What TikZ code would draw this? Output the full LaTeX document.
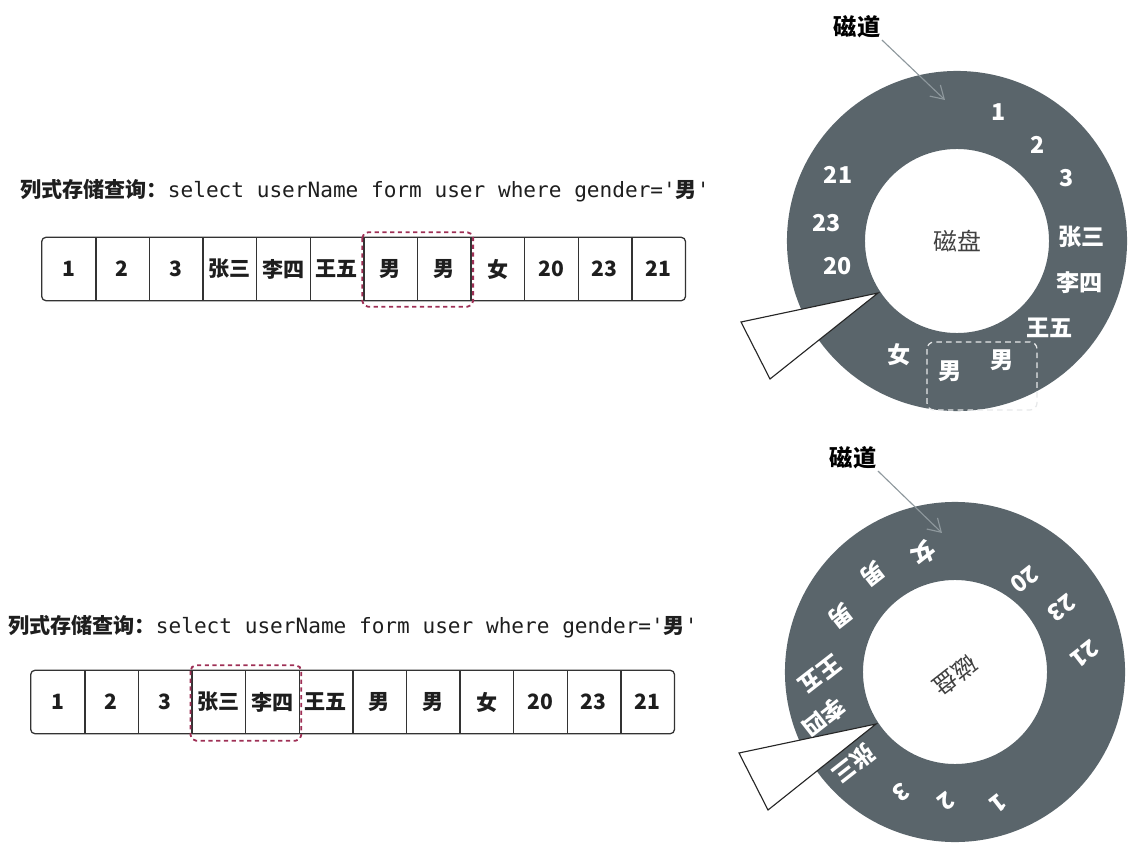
\documentclass[tikz,border=0pt]{standalone}
\usepackage{fontspec}
\setmainfont{Noto Sans CJK SC}
\setmonofont{DejaVu Sans Mono}
\usetikzlibrary{arrows.meta}
\definecolor{platter}{HTML}{5A656B}
\definecolor{pick}{HTML}{9E2F55}
\definecolor{pointer}{HTML}{8E989D}
\definecolor{ink}{HTML}{1E1E1E}
\def\ringpath{(0,0) circle (4.25cm) (0,0) circle (2.3cm)}
\def\headpath{(-79,-52) -- (-216,-81) -- (-187,-138) -- cycle}
\tikzset{
  cell/.style={minimum width=1.34cm, minimum height=1.57cm, inner sep=0pt, text=ink, font=\fontsize{15}{15}\selectfont\bfseries},
  rowline/.style={draw=black!80, line width=0.9pt},
  pickbox/.style={draw=pick, line width=1.3pt, dash pattern=on 3pt off 2.5pt, rounded corners=4pt},
  ringbox/.style={draw=white!85!platter, line width=0.9pt, dash pattern=on 4pt off 3pt, rounded corners=5pt},
  sector/.style={text=white, inner sep=0pt, text height=12pt, text depth=0pt, font=\fontsize{16.5}{16.5}\selectfont\bfseries},
  query/.style={anchor=base west, inner sep=0pt, text=ink, font=\fontsize{15}{18}\selectfont\bfseries},
  track/.style={inner sep=1pt, font=\fontsize{16.5}{16.5}\selectfont\bfseries},
  trackarrow/.style={draw=pointer, line width=0.8pt, -{Straight Barb[length=9pt,width=11pt]}},
  head/.style={fill=white, draw=black!85, line width=0.8pt},
  hub/.style={text=black!75, font=\fontsize{17}{17}\selectfont},
}
\newcommand\sqltxt[1]{{\mdseries\ttfamily #1}}

\begin{document}
\begin{tikzpicture}[x=0.025cm, y=-0.025cm]
\useasboundingbox (0,0) rectangle (1139,860);

% top: scan of the gender column
\node[query] (q1) at (20,198) {列式存储查询：\sqltxt{select userName form user where gender='}男\sqltxt{'}};
\foreach \t [count=\i] in {1,2,3,张三,李四,王五,男,男,女,20,23,21}
  \node[cell] (a\i) at ({42+53.6*(\i-0.5)},269) {\t};
\draw[rowline, rounded corners=3pt] (a1.north west) rectangle (a12.south east);
\foreach \i in {1,...,11}
  \draw[rowline] (a\i.north east) -- (a\i.south east);
\draw[pickbox] ([shift={(-1,-5)}]a7.north west) rectangle ([shift={(2,6)}]a8.south east);

\begin{scope}[shift={(957,241)}, x=0.025cm, y=0.025cm]
  \fill[platter, even odd rule] \ringpath;
  \node[hub] (disk1) at (0,0) {磁盘};
  \foreach \a/\r/\t [count=\i] in {72/136/1, 50/125/2, 30/126/3, 2/125/张三, -19/130/李四, -43/127/王五,
      -69/127/男, -93/130/男, -117/128/女, 192/122/20, 172/132/23, 151/136/21}
    \node[sector] (t\i) at (\a:\r) {\t};
  \draw[ringbox] (-30,-101) rectangle (80,-169);
  \filldraw[head] \headpath;
  \node[track] (trk1) at (-100,214) {磁道};
  \coordinate (tip1) at (-12,141);
  \draw[trackarrow] (trk1.south east) -- (tip1);
\end{scope}

% bottom: disk turned on to the name column
\node[query] (q2) at (8,633) {列式存储查询：\sqltxt{select userName form user where gender='}男\sqltxt{'}};
\foreach \t [count=\i] in {1,2,3,张三,李四,王五,男,男,女,20,23,21}
  \node[cell] (b\i) at ({31+53.6*(\i-0.5)},702) {\t};
\draw[rowline, rounded corners=3pt] (b1.north west) rectangle (b12.south east);
\foreach \i in {1,...,11}
  \draw[rowline] (b\i.north east) -- (b\i.south east);
\draw[pickbox] ([shift={(-1,-5)}]b4.north west) rectangle ([shift={(2,7)}]b5.south east);

\begin{scope}[shift={(955,672)}, x=0.025cm, y=0.025cm]
  \fill[platter, even odd rule] \ringpath;
  \node[hub, rotate=-142] (disk2) at (0,-4) {磁盘};
  \foreach \a/\r/\t [count=\i] in {105/123/女, 130/128/男, 154/127/男, 181/135/王五, 199/139/李四, 222/137/张三,
      246/132/3, 266/130/2, 288/138/1, 8/131/21, 31/124/23, 53/116/20}
    \node[sector, rotate=-142] (u\i) at (\a:\r) {\t};
  \filldraw[head] \headpath;
  \node[track] (trk2) at (-102,214) {磁道};
  \coordinate (tip2) at (-13,139);
  \draw[trackarrow] (trk2.south east) -- (tip2);
\end{scope}
\end{tikzpicture}
\end{document}
